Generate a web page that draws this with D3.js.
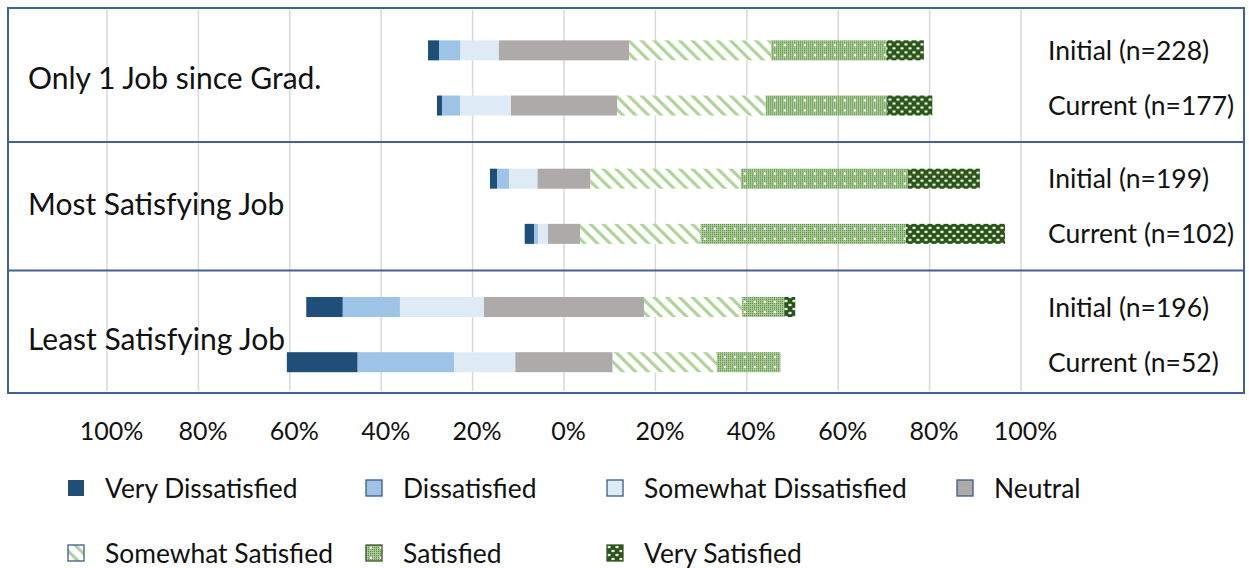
<!DOCTYPE html>
<html lang="en">
<head>
<meta charset="utf-8">
<title>Job satisfaction</title>
<script src="https://cdn.jsdelivr.net/npm/d3@7"></script>
<style>
  body { margin: 0; background: #fff; }
  text { font-family: Lato, "Open Sans", sans-serif; fill: #111; }
</style>
</head>
<body>
<div id="chart"></div>
<script>
// data (percent, against the printed axis)
var groups = ["Only 1 Job since Grad.", "Most Satisfying Job", "Least Satisfying Job"];
var waves = ["Initial", "Current"];
var rowLabels = ["Initial (n=228)", "Current (n=177)", "Initial (n=199)", "Current (n=102)", "Initial (n=196)", "Current (n=52)"];
var series = ["Very Dissatisfied", "Dissatisfied", "Somewhat Dissatisfied", "Neutral", "Somewhat Satisfied", "Satisfied", "Very Satisfied"];
// one value per row: Only1 Init, Only1 Cur, Most Init, Most Cur, Least Init, Least Cur
var veryDissatisfied     = [2.4, 1.1, 1.6, 2.1, 8.0, 15.5];
var dissatisfied         = [4.7, 4.0, 2.6, 0.8, 12.5, 21.1];
var somewhatDissatisfied = [8.4, 11.1, 6.2, 2.2, 18.4, 13.4];
var neutral              = [28.5, 23.2, 11.6, 7.0, 35.0, 21.3];
var somewhatSatisfied    = [31.1, 32.5, 32.9, 26.4, 21.5, 22.8];
var satisfied            = [25.2, 26.6, 36.5, 44.9, 9.2, 13.9];
var verySatisfied        = [8.2, 9.9, 15.8, 21.7, 2.4, 0];
var tickValues = [-100, -80, -60, -40, -20, 0, 20, 40, 60, 80, 100];

var values = [veryDissatisfied, dissatisfied, somewhatDissatisfied, neutral, somewhatSatisfied, satisfied, verySatisfied];
var fills = ["#1f4e79", "#9dc3e6", "#deebf7", "#aeaaaa", "url(#pSS)", "url(#pS)", "url(#pVS)"];

var W = 1249, H = 568;
var boxTop = 8, boxBottom = 393, boxLeft = 8, boxRight = 1244;
var barH = 20;

var svg = d3.select("#chart").append("svg").attr("width", W).attr("height", H);
svg.append("rect").attr("width", W).attr("height", H).attr("fill", "#fff");

// patterns
var defs = svg.append("defs");
var pSS = defs.append("pattern").attr("id", "pSS").attr("patternUnits", "userSpaceOnUse")
    .attr("width", 9).attr("height", 9).attr("patternTransform", "rotate(-45)");
pSS.append("rect").attr("width", 9).attr("height", 9).attr("fill", "#fff");
pSS.append("rect").attr("width", 3.2).attr("height", 9).attr("fill", "#aed596");

var pS = defs.append("pattern").attr("id", "pS").attr("patternUnits", "userSpaceOnUse")
    .attr("width", 10).attr("height", 10);
pS.append("rect").attr("width", 10).attr("height", 10).attr("fill", "#b3d2a0");
for (var i = 0; i < 5; i++) {
    for (var j = 0; j < 5; j++) {
        pS.append("rect").attr("x", i * 2).attr("y", j * 2).attr("width", 1.2).attr("height", 1.2).attr("fill", "#5a8f44");
    }
}
pS.append("circle").attr("cx", 5).attr("cy", 5).attr("r", 1.3).attr("fill", "#fff");

var pVS = defs.append("pattern").attr("id", "pVS").attr("patternUnits", "userSpaceOnUse")
    .attr("width", 8).attr("height", 8);
pVS.append("rect").attr("width", 8).attr("height", 8).attr("fill", "#2b5419");
pVS.append("ellipse").attr("cx", 2).attr("cy", 2).attr("rx", 1.8).attr("ry", 1.2).attr("fill", "#e6efe0");
pVS.append("ellipse").attr("cx", 6).attr("cy", 6).attr("rx", 1.8).attr("ry", 1.2).attr("fill", "#e6efe0");

// scales
var x = d3.scaleLinear().domain([-100, 100]).range([107, 1021]);
var yGroup = d3.scaleBand().domain(groups).range([boxTop, boxBottom]).paddingInner(0);
var gh = yGroup.bandwidth();
var yWave = d3.scalePoint().domain(waves).range([0.33 * gh, 0.76 * gh]);
function rowY(g, w) { return yGroup(g) + yWave(w); }

// gridlines
svg.selectAll("line.grid")
    .data(tickValues)
    .enter()
    .append("line")
    .attr("class", "grid")
    .attr("x1", function(d) { return x(d); })
    .attr("x2", function(d) { return x(d); })
    .attr("y1", boxTop + 2)
    .attr("y2", boxBottom - 2)
    .attr("stroke", "#d9d9d9")
    .attr("stroke-width", 1.5);

// rows for the stacked bars
var rows = [];
groups.forEach(function(g, gi) {
    waves.forEach(function(w, wi) {
        var r = gi * 2 + wi;
        var v = values.map(function(s) { return s[r]; });
        var start = -(v[0] + v[1] + v[2] + v[3] / 2);
        var segs = [];
        v.forEach(function(val, k) {
            segs.push({ x0: start, x1: start + val, fill: fills[k] });
            start += val;
        });
        rows.push({ group: g, wave: w, label: rowLabels[r], segs: segs });
    });
});

var rowG = svg.selectAll("g.row")
    .data(rows)
    .enter()
    .append("g")
    .attr("class", "row")
    .attr("transform", function(d) { return "translate(0," + rowY(d.group, d.wave) + ")"; });

rowG.selectAll("rect")
    .data(function(d) { return d.segs.filter(function(s) { return s.x1 > s.x0; }); })
    .enter()
    .append("rect")
    .attr("x", function(d) { return x(d.x0); })
    .attr("width", function(d) { return x(d.x1) - x(d.x0); })
    .attr("y", -barH / 2)
    .attr("height", barH)
    .attr("fill", function(d) { return d.fill; });

rowG.append("text")
    .attr("x", 1048)
    .attr("y", 0)
    .attr("dy", "0.36em")
    .attr("font-size", "26.5px")
    .text(function(d) { return d.label; });

// group labels
var grpShift = [-17, -19, -12];
svg.selectAll("text.grp")
    .data(groups)
    .enter()
    .append("text")
    .attr("class", "grp")
    .attr("x", 28)
    .attr("y", function(d, i) { return rowY(d, "Current") + grpShift[i]; })
    .attr("font-size", "30px")
    .text(function(d) { return d; });

// frame and dividers between the groups
svg.append("rect")
    .attr("x", boxLeft).attr("y", boxTop)
    .attr("width", boxRight - boxLeft).attr("height", boxBottom - boxTop)
    .attr("fill", "none").attr("stroke", "#41609f").attr("stroke-width", 2);
svg.selectAll("line.div")
    .data(groups.slice(1))
    .enter()
    .append("line")
    .attr("class", "div")
    .attr("x1", boxLeft).attr("x2", boxRight)
    .attr("y1", function(d, i) { return (rowY(groups[i], "Current") + rowY(d, "Initial")) / 2; })
    .attr("y2", function(d, i) { return (rowY(groups[i], "Current") + rowY(d, "Initial")) / 2; })
    .attr("stroke", "#41609f").attr("stroke-width", 2);

// axis labels
var axis = d3.axisBottom(x).tickValues(tickValues).tickSize(0).tickPadding(0)
    .tickFormat(function(d) { return Math.abs(d) + "%"; });
var axG = svg.append("g").attr("transform", "translate(4,422)").call(axis);
axG.select(".domain").remove();
axG.selectAll("text").attr("font-size", "25px").attr("font-family", "Lato, sans-serif").attr("fill", "#111");

// legend
var legX = [68, 366, 607, 957];
var legend = svg.selectAll("g.leg")
    .data(series)
    .enter()
    .append("g")
    .attr("class", "leg")
    .attr("transform", function(d, i) {
        var row = i < 4 ? 0 : 1;
        var col = i < 4 ? i : i - 4;
        return "translate(" + legX[col] + "," + (row == 0 ? 488 : 553) + ")";
    });
legend.append("rect")
    .attr("x", 0).attr("y", -8)
    .attr("width", 16).attr("height", 16)
    .attr("fill", function(d, i) { return fills[i]; })
    .attr("stroke", function(d, i) { return i == 0 ? "none" : (i > 4 ? "#385723" : "#3b5a8c"); })
    .attr("stroke-width", 1.3);
legend.append("text")
    .attr("x", 37)
    .attr("dy", "0.36em")
    .attr("font-size", "26.4px")
    .text(function(d) { return d; });
</script>
</body>
</html>
